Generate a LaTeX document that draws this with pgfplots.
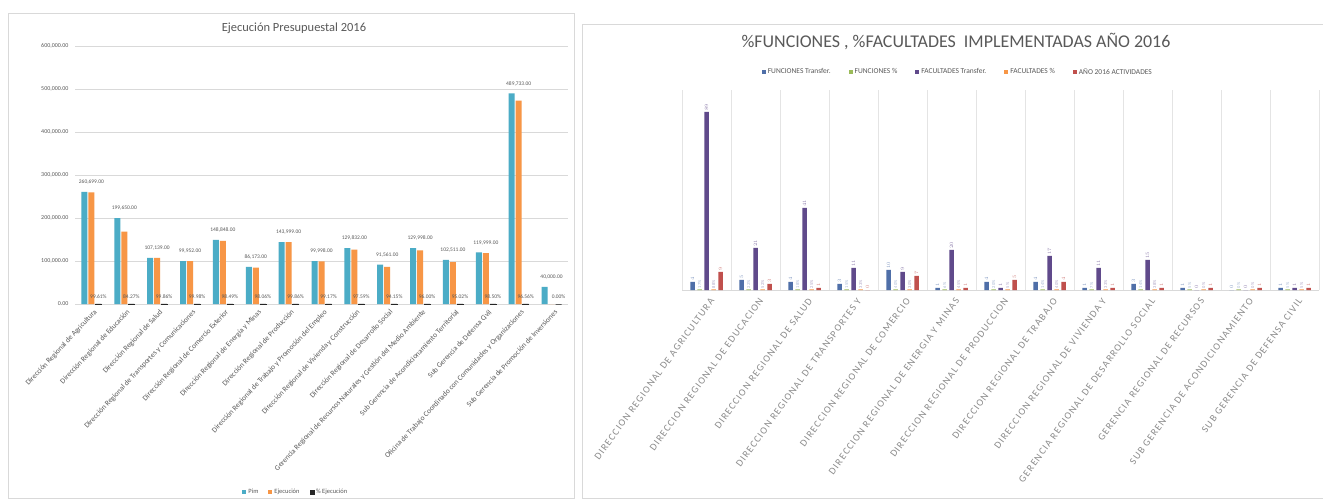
\documentclass[border=0pt]{standalone}
\usepackage{pgfplots}
\pgfplotsset{compat=1.18}
\usepackage{pgfplotstable}
\usepackage{fontspec}
\setmainfont{Carlito}
\newfontfamily\spaced[LetterSpace=12]{Carlito}
\definecolor{pim}{HTML}{4BACC6}
\definecolor{eje}{HTML}{F79646}
\definecolor{pct}{HTML}{262626}
\definecolor{fT}{HTML}{4F6FA8}
\definecolor{fP}{HTML}{9BBB59}
\definecolor{faT}{HTML}{604A8B}
\definecolor{faP}{HTML}{F79646}
\definecolor{act}{HTML}{C0504D}
\definecolor{txt}{HTML}{595959}
\definecolor{grd}{HTML}{D9D9D9}

\pgfplotstableread{
x pim eje pct
0 260699 259680 99.61
1 199650 168250 84.27
2 107139 106990 99.86
3 99952 99930 99.98
4 148848 146600 98.49
5 86173 84500 98.06
6 143999 143800 99.86
7 99998 99170 99.17
8 129832 126700 97.59
9 91561 86200 94.15
10 129998 124800 96.00
11 102511 97400 95.02
12 119999 118200 98.50
13 489733 472900 96.56
14 40000 0 0.00
}\leftdata

\pgfplotstableread{
x fT fP fPl faT faP faPl act
0 4 0.3 17 89 0.3 88 9
1 5 0.3 22 21 0.3 52 3
2 4 0.3 18 41 0.3 25 1
3 3 0.3 15 11 0.3 33 0
4 10 0.3 40 9 0.3 30 7
5 1 0.3 6 20 0.3 45 1
6 4 0.3 20 1 0.3 5 5
7 4 0.3 14 17 0.3 40 4
8 1 0.3 7 11 0.3 33 1
9 3 0.3 14 15 0.3 38 1
10 1 0.3 5 0 0.3 0 1
11 0 0.3 0 0 0.3 0 1
12 1 0.3 5 1 0.3 5 1
}\rightdata

\begin{document}
\begin{tikzpicture}
\useasboundingbox (0,0) rectangle (1323bp,500bp);
\fill[white] (0,0) rectangle (1323bp,500bp);
\draw[grd, line width=0.6bp] (8bp,2bp) rectangle (574bp,487bp);
\draw[grd, line width=0.6bp] (1323bp,476bp) -- (582bp,476bp) -- (582bp,2bp) -- (1323bp,2bp);

\node[text=txt, font=\fontsize{12.5}{14}\selectfont] at (294bp,472bp) {Ejecución Presupuestal 2016};
\node[text=txt, font=\fontsize{18}{20}\selectfont] at (956bp,458bp) {\%FUNCIONES , \%FACULTADES\ \ IMPLEMENTADAS AÑO 2016};

% ---------- left chart ----------
\begin{axis}[
  at={(75bp,196bp)}, anchor=south west, scale only axis,
  width=493bp, height=258bp,
  ybar=1bp, bar width=6bp,
  xmin=-0.5, xmax=14.5, ymin=0, ymax=600000,
  xtick={0,...,14},
  ytick={0,100000,200000,300000,400000,500000,600000},
  scaled y ticks=false,
  ymajorgrids, grid style={grd, line width=0.5bp},
  axis line style={draw=none}, major tick length=0pt,
  y tick label style={font=\fontsize{6}{7}\selectfont, text=txt, xshift=-3bp,
    /pgf/number format/.cd, fixed, fixed zerofill, precision=2, 1000 sep={,}, assume math mode=true},
  x tick label style={font=\fontsize{7.5}{8}\selectfont, text=txt, rotate=47, anchor=east, inner sep=1bp, yshift=-8bp, xshift=-1bp},
  xticklabels={{Dirección Regional de Agricultura},{Dirección Regional de Educación},{Dirección Regional de Salud},{Dirección Regional de Transportes y Comunicaciones},{Dirección Regional de Comercio Exterior},{Dirección Regional de Energía y Minas},{Dirección Regional de Producción},{Dirección Regional de Trabajo y Promoción del Empleo},{Dirección Regional de Vivienda y Construcción},{Dirección Regional de Desarrollo Social},{Gerencia Regional de Recursos Naturales y Gestión del Medio Ambiente},{Sub Gerencia de Acondicionamiento Territorial},{Sub Gerencia de Defensa Civil},{Oficina de Trabajo Coordinado con Comunidades y Organizaciones},{Sub Gerencia de Promoción de Inversiones}},
  legend columns=3,
  legend style={at={(0.448,-0.73)}, anchor=center, draw=none, fill=none, font=\fontsize{6.5}{7}\selectfont, text=txt, /tikz/every even column/.append style={column sep=8bp}},
  legend image code/.code={\fill[#1] (0bp,-2bp) rectangle (4bp,2bp);},
  clip=false,
]
\addplot[fill=pim, draw=none, nodes near coords,
  every node near coord/.append style={font=\fontsize{5.5}{6}\selectfont, text=txt, xshift=7bp, yshift=4bp,
   /pgf/number format/.cd, fixed, fixed zerofill, precision=2, 1000 sep={,}, assume math mode=true}]
  table[x=x, y=pim] {\leftdata};
\addplot[fill=eje, draw=none] table[x=x, y=eje] {\leftdata};
\addplot[fill=pct, draw=pct, line width=0.5bp, point meta=explicit symbolic,
  nodes near coords={\pgfplotspointmeta\%},
  every node near coord/.append style={font=\fontsize{5.5}{6}\selectfont, text=txt, yshift=2bp}]
  table[x=x, y=pct, meta=pct] {\leftdata};
\legend{Pim, Ejecución, \% Ejecución}
\end{axis}

% ---------- right chart ----------
\begin{axis}[
  at={(682bp,210bp)}, anchor=south west, scale only axis,
  width=637bp, height=200bp,
  ybar=2.5bp, bar width=4.5bp,
  xmin=-0.5, xmax=12.5, ymin=0, ymax=100,
  xtick={0,...,12}, ytick=\empty,
  minor xtick={-0.5,0.5,...,12.5},
  xminorgrids, minor grid style={grd!70, line width=0.5bp},
  axis x line*=bottom, axis y line=none,
  x axis line style={grd},
  major tick length=0pt, minor tick length=0pt,
  x tick label style={font=\spaced\fontsize{10}{11}\selectfont, text=txt!70, rotate=54, anchor=east, inner sep=1bp, yshift=-10bp, xshift=-3bp},
  xticklabels={{DIRECCION REGIONAL DE AGRICULTURA},{DIRECCION REGIONAL DE EDUCACION},{DIRECCION REGIONAL DE SALUD},{DIRECCION REGIONAL DE TRANSPORTES Y},{DIRECCION REGIONAL DE COMERCIO},{DIRECCION REGIONAL DE ENERGIA Y MINAS},{DIRECCION REGIONAL DE PRODUCCION},{DIRECCION REGIONAL DE TRABAJO},{DIRECCION REGIONAL DE VIVIENDA Y},{GERENCIA REGIONAL DE DESARROLLO SOCIAL},{GERENCIA REGIONAL DE RECURSOS},{SUB GERENCIA DE ACONDICIONAMIENTO},{SUB GERENCIA DE DEFENSA CIVIL}},
  legend columns=5,
  legend style={at={(0.433,1.09)}, anchor=center, draw=none, fill=none, font=\fontsize{7.5}{8}\selectfont, text=txt, /tikz/every even column/.append style={column sep=16bp}},
  legend image code/.code={\fill[#1] (0bp,-2bp) rectangle (4bp,2bp);},
  every node near coord/.append style={rotate=90, anchor=west, font=\fontsize{4.5}{5}\selectfont, inner sep=1bp},
  clip=false,
]
\addplot[fill=fT, draw=none, nodes near coords, every node near coord/.append style={text=fT!70}] table[x=x, y=fT] {\rightdata};
\addplot[fill=fP, draw=none, point meta=explicit symbolic, nodes near coords={\pgfplotspointmeta\%}, every node near coord/.append style={text=fT!50}] table[x=x, y=fP, meta=fPl] {\rightdata};
\addplot[fill=faT, draw=none, nodes near coords, every node near coord/.append style={text=faT!70}] table[x=x, y=faT] {\rightdata};
\addplot[fill=faP, draw=none, point meta=explicit symbolic, nodes near coords={\pgfplotspointmeta\%}, every node near coord/.append style={text=faT!50}] table[x=x, y=faP, meta=faPl] {\rightdata};
\addplot[fill=act, draw=none, nodes near coords, every node near coord/.append style={text=act!70}] table[x=x, y=act] {\rightdata};
\legend{FUNCIONES Transfer., FUNCIONES \%, FACULTADES Transfer., FACULTADES \%, AÑO 2016 ACTIVIDADES}
\end{axis}
\end{tikzpicture}
\end{document}
